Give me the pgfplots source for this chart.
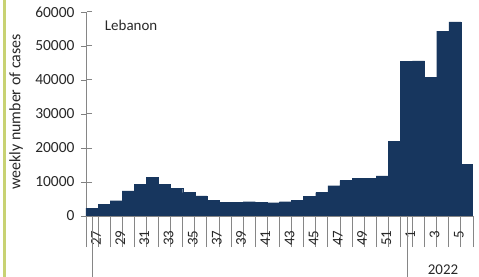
\documentclass[border=0pt]{standalone}
\usepackage{pgfplots}
\pgfplotsset{compat=1.18}
\usepackage{fontspec}
\setmainfont{Carlito}
\definecolor{barblue}{RGB}{23,54,94}
\definecolor{axgray}{RGB}{134,134,134}
\definecolor{txt}{RGB}{40,40,40}
\definecolor{frame}{RGB}{200,210,115}
\begin{document}
\begin{tikzpicture}
\useasboundingbox (0,0) rectangle (479bp,277bp);
\fill[white] (0,0) rectangle (479bp,277bp);
\fill[frame] (3bp,0) rectangle (5.5bp,277bp);
\begin{axis}[
  at={(92bp,61bp)}, anchor=origin,
  scale only axis, width=387bp, height=204bp,
  xmin=-0.5, xmax=31.5, ymin=0, ymax=60000,
  axis lines=left, axis line style={-, draw=axgray, line width=0.9pt},
  clip=true,
  ytick={0,10000,...,60000}, scaled y ticks=false,
  /pgf/number format/.cd, set thousands separator={}, assume math mode=true, /pgfplots/.cd,
  yticklabel style={font=\fontsize{15.5}{15.5}\selectfont, text=txt, xshift=-3bp},
  major tick length=5bp,
  tick align=outside, tick pos=left,
  xtick={0,2,...,30},
  xticklabels={27,29,31,33,35,37,39,41,43,45,47,49,51,1,3,5},
  x tick label style={rotate=90, anchor=east, font=\fontsize{15}{15}\selectfont, text=txt, xshift=-6bp, yshift=-4bp},
  xtick style={draw opacity=0},
  minor xtick={-0.5,0.5,...,31.5},
  minor x tick style={draw=axgray, draw opacity=1, line width=0.8pt},
  minor tick length=31bp,
]
\addplot[ybar, bar width=1, bar shift=0, fill=barblue, draw=barblue, line width=0.3pt] coordinates {
(0,2300) (1,3400) (2,4500) (3,7400) (4,9400) (5,11300) (6,9400) (7,8100)
(8,6900) (9,5900) (10,4700) (11,4000) (12,4000) (13,4200) (14,4000) (15,3900)
(16,4200) (17,4700) (18,5700) (19,6900) (20,8900) (21,10400) (22,11100) (23,11100)
(24,11800) (25,21900) (26,45400) (27,45600) (28,40700) (29,54400) (30,57100) (31,15200)
};
\node[anchor=west, font=\fontsize{15}{15}\selectfont, text=txt] at (axis description cs:0.04,0.935) {Lebanon};
\end{axis}
\foreach \k in {0,...,6} {
  \draw[axgray, line width=1pt] (92bp,61bp+\k*34bp) -- (87bp,61bp+\k*34bp);
}
\draw[axgray, line width=0.9pt] (92bp,61bp) -- (92bp,0);
\draw[axgray, line width=0.9pt] (407bp,61bp) -- (407bp,0);
\node[rotate=90, font=\fontsize{16}{16}\selectfont, text=txt] at (16bp,165bp) {weekly number of cases};
\node[font=\fontsize{15}{15}\selectfont, text=txt] at (443bp,7bp) {2022};
\end{tikzpicture}
\end{document}
